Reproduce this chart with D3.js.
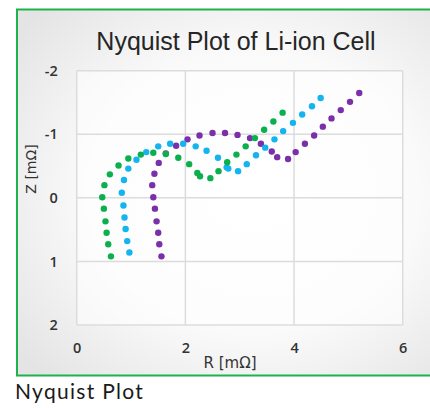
<!DOCTYPE html>
<html>
<head>
<meta charset="utf-8">
<script src="https://cdn.jsdelivr.net/npm/d3@7"></script>
<style>
  html, body { margin: 0; padding: 0; background: #ffffff; }
  svg { display: block; }
</style>
</head>
<body>
<div id="chart"></div>
<script>
// Impedance spectra of three cells: real part R and imaginary part Z, both in mΩ
const greenR = [0.63, 0.58, 0.55, 0.53, 0.50, 0.47, 0.51, 0.61, 0.77, 0.95, 1.18, 1.41, 1.64, 1.87, 2.07, 2.22, 2.27, 2.46, 2.61, 2.77, 2.94, 3.11, 3.28, 3.45, 3.62, 3.79];
const greenZ = [0.92, 0.73, 0.55, 0.37, 0.17, -0.01, -0.20, -0.37, -0.51, -0.62, -0.68, -0.71, -0.69, -0.63, -0.53, -0.39, -0.34, -0.31, -0.42, -0.56, -0.68, -0.81, -0.94, -1.07, -1.20, -1.34];

const blueR = [0.97, 0.93, 0.90, 0.88, 0.86, 0.83, 0.87, 0.95, 1.10, 1.28, 1.50, 1.72, 1.96, 2.19, 2.39, 2.60, 2.76, 2.79, 2.97, 3.13, 3.30, 3.47, 3.64, 3.80, 3.98, 4.15, 4.33, 4.49];
const blueZ = [0.86, 0.68, 0.49, 0.31, 0.12, -0.08, -0.28, -0.46, -0.60, -0.72, -0.81, -0.85, -0.85, -0.81, -0.74, -0.63, -0.48, -0.46, -0.42, -0.53, -0.67, -0.79, -0.92, -1.05, -1.18, -1.31, -1.44, -1.57];

const purpleR = [1.56, 1.52, 1.50, 1.47, 1.44, 1.41, 1.39, 1.43, 1.51, 1.64, 1.83, 2.04, 2.26, 2.50, 2.73, 2.96, 3.19, 3.39, 3.59, 3.69, 3.89, 4.03, 4.20, 4.37, 4.53, 4.69, 4.86, 5.03, 5.20];
const purpleZ = [0.92, 0.73, 0.55, 0.37, 0.17, -0.01, -0.20, -0.38, -0.55, -0.70, -0.82, -0.92, -0.98, -1.02, -1.02, -0.99, -0.94, -0.85, -0.73, -0.64, -0.61, -0.72, -0.85, -0.98, -1.12, -1.25, -1.38, -1.51, -1.65];

const xTicks = [0, 2, 4, 6];
const yTicks = [-2, -1, 0, 1, 2];

const chartTitle = "Nyquist Plot of Li-ion Cell";
const xTitle = "R [mΩ]";
const yTitle = "Z [mΩ]";
const caption = "Nyquist Plot";

const series = [
  { name: "purple", r: purpleR, z: purpleZ, color: "#7a30a8" },
  { name: "blue", r: blueR, z: blueZ, color: "#13b4f0" },
  { name: "green", r: greenR, z: greenZ, color: "#0bb04e" }
];

const W = 430, H = 408;
const svg = d3.select("#chart").append("svg")
  .attr("width", W).attr("height", H);

// soft grey panel behind the chart
const defs = svg.append("defs");
const grad = defs.append("radialGradient")
  .attr("id", "panelGrad")
  .attr("cx", "55%").attr("cy", "50%").attr("r", "70%");
grad.append("stop").attr("offset", "0%").attr("stop-color", "#ffffff");
grad.append("stop").attr("offset", "55%").attr("stop-color", "#fafafa");
grad.append("stop").attr("offset", "100%").attr("stop-color", "#e4e4e4");

svg.append("rect")
  .attr("x", 17).attr("y", 9.5)
  .attr("width", 430).attr("height", 366)
  .attr("fill", "url(#panelGrad)")
  .attr("stroke", "#1db24c").attr("stroke-width", 2);

const x = d3.scaleLinear().domain([0, 6]).range([76.7, 402.7]);
const y = d3.scaleLinear().domain([-2, 2]).range([70.7, 325]);

// plot area and grid
svg.append("rect")
  .attr("x", x(0)).attr("y", y(-2))
  .attr("width", x(6) - x(0)).attr("height", y(2) - y(-2))
  .attr("fill", "#ffffff").attr("fill-opacity", 0.55);

const grid = svg.append("g").attr("stroke", "#dcdcdc").attr("stroke-width", 1.5);
grid.selectAll("line.h").data(yTicks).join("line")
  .attr("class", "h")
  .attr("x1", x(0)).attr("x2", x(6))
  .attr("y1", d => y(d)).attr("y2", d => y(d));
grid.selectAll("line.v").data(xTicks).join("line")
  .attr("class", "v")
  .attr("x1", d => x(d)).attr("x2", d => x(d))
  .attr("y1", y(-2)).attr("y2", y(2));

// axes
const tickFont = "'Open Sans', 'DejaVu Sans', sans-serif";
const xAxis = svg.append("g")
  .attr("transform", `translate(0,${y(2)})`)
  .call(d3.axisBottom(x).tickValues(xTicks).tickSize(0).tickPadding(18).tickFormat(d3.format("d")));
const yAxis = svg.append("g")
  .attr("transform", `translate(${x(0)},0)`)
  .call(d3.axisLeft(y).tickValues(yTicks).tickSize(0).tickPadding(19).tickFormat(d => d < 0 ? "-" + Math.abs(d) : String(d)));
[xAxis, yAxis].forEach(a => {
  a.select(".domain").remove();
  a.selectAll("text")
    .attr("fill", "#333333")
    .style("font-family", tickFont)
    .style("font-size", "14.5px")
    .style("font-weight", "600");
});

// data points
series.forEach(s => {
  svg.append("g").attr("fill", s.color)
    .selectAll("circle")
    .data(d3.range(s.r.length))
    .join("circle")
    .attr("cx", i => x(s.r[i]))
    .attr("cy", i => y(s.z[i]))
    .attr("r", 3.2);
});

// titles
svg.append("text")
  .attr("x", 236).attr("y", 50)
  .attr("text-anchor", "middle")
  .attr("fill", "#262626")
  .style("font-family", "'Liberation Sans', Arial, sans-serif")
  .style("font-size", "25px")
  .text(chartTitle);

svg.append("text")
  .attr("x", 230).attr("y", 368)
  .attr("text-anchor", "middle")
  .attr("fill", "#333333")
  .style("font-family", "'DejaVu Sans', sans-serif")
  .style("font-size", "15px")
  .text(xTitle);

svg.append("text")
  .attr("transform", "translate(36,169) rotate(-90)")
  .attr("text-anchor", "middle")
  .attr("fill", "#333333")
  .style("font-family", "'DejaVu Sans', sans-serif")
  .style("font-size", "14px")
  .text(yTitle);

svg.append("text")
  .attr("x", 15).attr("y", 399)
  .attr("fill", "#1a1a1a")
  .style("font-family", "Lato, 'Noto Sans', sans-serif")
  .style("font-size", "21px")
  .style("letter-spacing", "1.3px")
  .text(caption);
</script>
</body>
</html>
